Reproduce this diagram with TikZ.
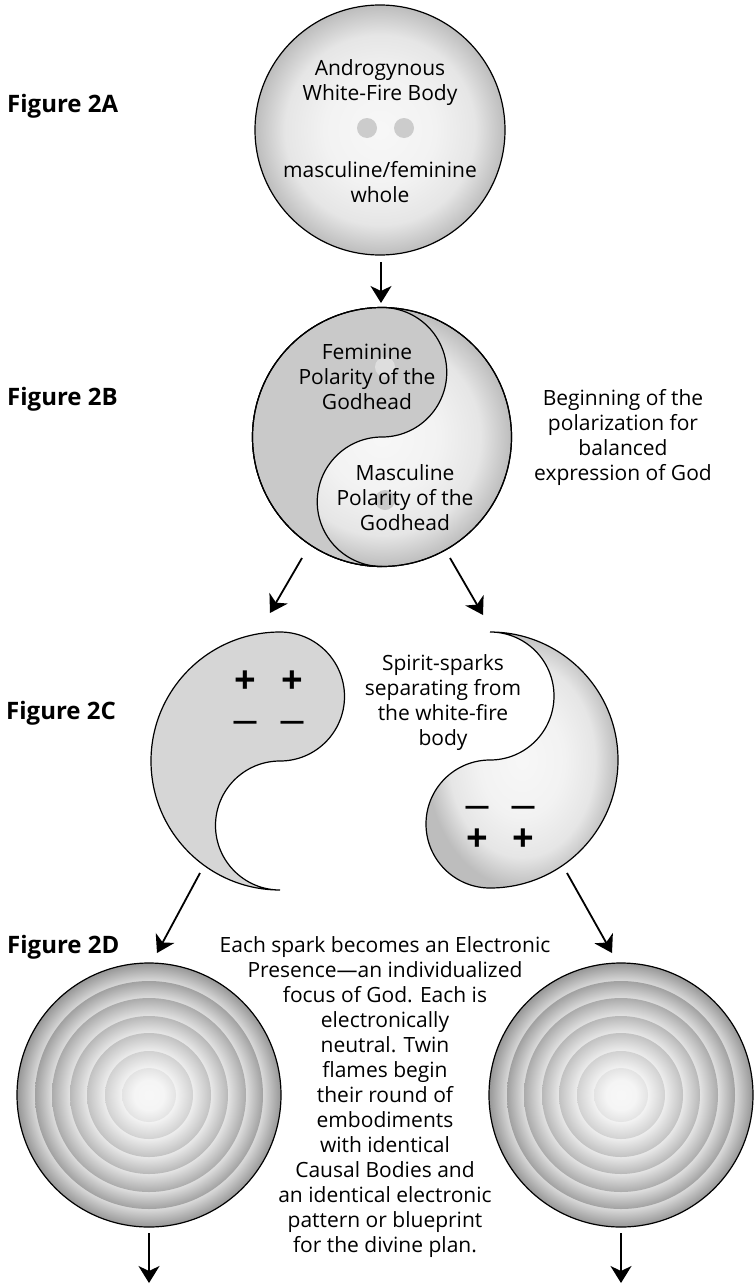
\documentclass[tikz,border=0pt]{standalone}
\usepackage{fontspec}
\setmainfont{Open Sans}
\usetikzlibrary{arrows.meta}

% TikZ maps the central 50bp x 50bp of a shading onto the path's bounding box,
% so the rim of a circle is at 25bp.
\pgfdeclareradialshading{ball}{\pgfpointorigin}{color(0bp)=(black!3); color(11bp)=(black!5); color(19bp)=(black!10); color(25bp)=(black!26); color(50bp)=(black!26)}
\pgfdeclareradialshading{ringa}{\pgfpointorigin}{color(0bp)=(black!15); color(21.6bp)=(black!15); color(25bp)=(black!41); color(50bp)=(black!41)}
\pgfdeclareradialshading{ringb}{\pgfpointorigin}{color(0bp)=(black!13); color(21.25bp)=(black!13); color(25bp)=(black!37); color(50bp)=(black!37)}
\pgfdeclareradialshading{ringc}{\pgfpointorigin}{color(0bp)=(black!11); color(20.35bp)=(black!11); color(25bp)=(black!33); color(50bp)=(black!33)}
\pgfdeclareradialshading{ringd}{\pgfpointorigin}{color(0bp)=(black!9); color(19.6bp)=(black!9); color(25bp)=(black!28); color(50bp)=(black!28)}
\pgfdeclareradialshading{ringe}{\pgfpointorigin}{color(0bp)=(black!7); color(17.75bp)=(black!7); color(25bp)=(black!24); color(50bp)=(black!24)}
\pgfdeclareradialshading{ringf}{\pgfpointorigin}{color(0bp)=(black!5); color(15.35bp)=(black!5); color(25bp)=(black!18); color(50bp)=(black!18)}
\pgfdeclareradialshading{ringg}{\pgfpointorigin}{color(0bp)=(black!3); color(14bp)=(black!4); color(25bp)=(black!11); color(50bp)=(black!11)}

\begin{document}
\begin{tikzpicture}[x=1pt,y=1pt,
  txt/.style={font=\fontsize{21}{25}\selectfont, align=center, inner sep=0pt},
  lbl/.style={font=\fontsize{24}{28}\selectfont\bfseries, anchor=base west, inner sep=0pt},
  plussgn/.style={font=\fontsize{38}{38}\selectfont\bfseries, inner sep=0pt, yshift=-2pt},
  minussgn/.style={font=\fontsize{25}{25}\selectfont\bfseries, inner sep=0pt, yshift=-3pt},
  arr/.style={line width=1.8pt, -{Stealth[length=17pt,width=21pt,inset=5pt]}},
  outl/.style={draw=black, line width=1.2pt},
  darkfill/.style={fill=black!21},
  sparkfill/.style={fill=black!16}]
\useasboundingbox (0,0) rectangle (755,-1285);

% ---------- Figure labels ----------
\node[lbl] (lA) at (7,-112) {Figure 2A};
\node[lbl] (lB) at (7,-405) {Figure 2B};
\node[lbl] (lC) at (6,-719) {Figure 2C};
\node[lbl] (lD) at (7,-953) {Figure 2D};

% ---------- Figure 2A ----------
\node[circle, outl, shading=ball, minimum size=250pt, inner sep=0pt] (A) at (380,-130) {};
\fill[black!20] (367,-128) circle[radius=10];
\fill[black!20] (404,-128) circle[radius=10];
\node[txt] (tA1) at (380,-82.5) {Androgynous\\White-Fire Body};
\node[txt] (tA2) at (380,-182.5) {masculine/feminine\\whole};

% ---------- Figure 2B ----------
\node[circle, outl, shading=ball, minimum size=259pt, inner sep=0pt] (B) at (382,-437) {};
\path[darkfill, draw=black, line width=1.2pt] (382,-307.5) arc[start angle=90,end angle=270,radius=129.5]
   arc[start angle=-90,end angle=-270,radius=64.75]
   arc[start angle=270,end angle=450,radius=64.75] -- cycle;
\draw[line width=1.2pt] (382,-437) circle[radius=129.5];
\fill[black!13] (385,-367) circle[radius=10];
\fill[black!21] (385,-500) circle[radius=10];
\node[txt] (tB1) at (367,-377) {Feminine\\Polarity of the\\Godhead};
\node[txt] (tB2) at (405,-498) {Masculine\\Polarity of the\\Godhead};
\node[txt] (tB3) at (623,-437) {Beginning of the\\polarization for\\balanced\\expression of God};

% ---------- Figure 2C ----------
\path[sparkfill, draw=black, line width=1.2pt] (280,-632) arc[start angle=90,end angle=270,radius=129]
   arc[start angle=-90,end angle=-270,radius=64.5]
   arc[start angle=270,end angle=450,radius=64.5] -- cycle;
\path[shading=ball, draw=black, line width=1.2pt] (490,-632) arc[start angle=90,end angle=-90,radius=128]
   arc[start angle=-90,end angle=-270,radius=64]
   arc[start angle=270,end angle=450,radius=64] -- cycle;
\node[plussgn] (p1) at (245,-680) {+};
\node[plussgn] (p2) at (292,-680) {+};
\node[minussgn] (m1) at (245,-722) {—};
\node[minussgn] (m2) at (292,-722) {—};
\node[minussgn] (m3) at (477,-807) {—};
\node[minussgn] (m4) at (523,-807) {—};
\node[plussgn] (p3) at (477,-838) {+};
\node[plussgn] (p4) at (523,-838) {+};
\node[txt] (tC) at (443,-703) {Spirit-sparks\\separating from\\the white-fire\\body};

% ---------- Figure 2D ----------
\foreach \r/\s in {132/ringa,114/ringb,97/ringc,79/ringd,62/ringe,44/ringf,27/ringg}{
  \path[shading=\s] (149,-1095) circle[radius=\r];
  \path[shading=\s] (621,-1095) circle[radius=\r];
}
\node[circle, outl, minimum size=264pt, inner sep=0pt] (DL) at (149,-1095) {};
\node[circle, outl, minimum size=264pt, inner sep=0pt] (DR) at (621,-1095) {};
\node[txt] (tD) at (385,-1097) {Each spark becomes an Electronic\\Presence—an individualized\\focus of God. Each is\\electronically\\neutral. Twin\\flames begin\\their round of\\embodiments\\with identical\\Causal Bodies and\\an identical electronic\\pattern or blueprint\\for the divine plan.};

% ---------- Connectors ----------
\coordinate (a1s) at (381,-262); \coordinate (a1e) at (381,-303);
\coordinate (a2s) at (302,-558); \coordinate (a2e) at (270,-613);
\coordinate (a3s) at (450,-558); \coordinate (a3e) at (483,-615);
\coordinate (a4s) at (200,-873); \coordinate (a4e) at (157,-953);
\coordinate (a5s) at (567,-873); \coordinate (a5e) at (612,-953);
\coordinate (a6s) at (149,-1233); \coordinate (a6e) at (149,-1283);
\coordinate (a7s) at (621,-1233); \coordinate (a7e) at (621,-1283);
\draw[arr] (a1s) -- (a1e);
\draw[arr] (a2s) -- (a2e);
\draw[arr] (a3s) -- (a3e);
\draw[arr] (a4s) -- (a4e);
\draw[arr] (a5s) -- (a5e);
\draw[arr] (a6s) -- (a6e);
\draw[arr] (a7s) -- (a7e);
\end{tikzpicture}
\end{document}
